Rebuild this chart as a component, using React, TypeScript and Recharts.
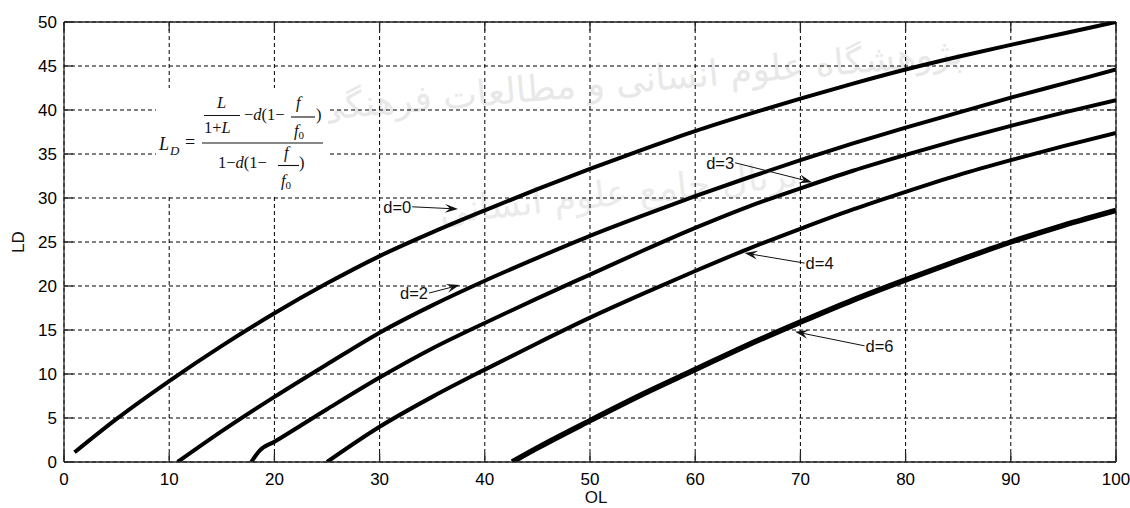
import React from 'react';
import { LineChart, Line, XAxis, YAxis, CartesianGrid, ReferenceLine } from 'recharts';

// ---- data ----
const xTicks = [0, 10, 20, 30, 40, 50, 60, 70, 80, 90, 100];
const yTicks = [0, 5, 10, 15, 20, 25, 30, 35, 40, 45, 50];

const curveD0: number[][] = [
  [1, 1.1], [5, 4.9], [10, 9.2], [15, 13.2], [20, 16.9], [25, 20.3], [30, 23.4], [35, 26.1],
  [40, 28.6], [45, 31.0], [50, 33.3], [55, 35.5], [60, 37.6], [65, 39.5], [70, 41.3],
  [75, 43.0], [80, 44.6], [85, 46.05], [90, 47.4], [95, 48.7], [100, 50.0],
];
const curveD2: number[][] = [
  [10.8, 0], [15, 3.5], [20, 7.4], [25, 11.1], [30, 14.7], [35, 17.8], [40, 20.6], [45, 23.2],
  [50, 25.7], [55, 28.0], [60, 30.2], [65, 32.3], [70, 34.3], [75, 36.2], [80, 38.0],
  [85, 39.7], [90, 41.4], [95, 43.0], [100, 44.6],
];
const curveD3: number[][] = [
  [17.8, 0], [18.6, 1.3], [20, 2.3], [25, 6.0], [30, 9.6], [35, 12.9], [40, 15.8], [45, 18.6],
  [50, 21.3], [55, 24.0], [60, 26.6], [65, 29.0], [70, 31.1], [75, 33.1], [80, 34.9],
  [85, 36.6], [90, 38.2], [95, 39.7], [100, 41.1],
];
const curveD4: number[][] = [
  [25, 0], [30, 4.0], [35, 7.4], [40, 10.5], [45, 13.5], [50, 16.4], [55, 19.1], [60, 21.7],
  [65, 24.2], [70, 26.5], [75, 28.7], [80, 30.7], [85, 32.6], [90, 34.3], [95, 35.9], [100, 37.4],
];
const curveD6: number[][] = [
  [42.6, 0], [45, 1.6], [50, 4.7], [55, 7.7], [60, 10.5], [65, 13.3], [70, 15.9], [75, 18.4],
  [80, 20.7], [85, 22.9], [90, 25.0], [95, 26.9], [100, 28.6],
];

const seriesLabels = ['d=0', 'd=2', 'd=3', 'd=4', 'd=6'];

// annotation arrows: label, arrow start (at label), arrow tip — data coordinates
const annLabels = ['d=0', 'd=2', 'd=3', 'd=4', 'd=6'];
const annFrom = [[33.1, 29.0], [34.7, 19.2], [63.8, 34.0], [70.4, 22.6], [76.1, 13.2]];
const annTo = [[37.45, 28.75], [37.6, 20.1], [71.1, 31.8], [64.7, 23.75], [69.5, 14.8]];
const annSide = ['left', 'left', 'left', 'right', 'right'];

const xLabel = 'OL';
const yLabel = 'LD';
const watermark1 = 'پژوهشگاه علوم انسانی و مطالعات فرهنگی';
const watermark2 = 'پرتال جامع علوم انسانی';

const toPts = (arr: number[][]) => arr.map(([x, y]) => ({ x, y }));
const curves = [curveD0, curveD2, curveD3, curveD4, curveD6];
const widths = [4, 4, 4, 4, 5.5];

const FONT = '"Liberation Sans", Arial, sans-serif';
const SERIF = '"Liberation Serif", "Times New Roman", serif';
const AX = '#262626';
const TICK_LEN = 9;

const makeArrow = (label: string, side: string) => (props: any) => {
  const { x1, y1, x2, y2 } = props;
  const dx = x2 - x1;
  const dy = y2 - y1;
  const len = Math.sqrt(dx * dx + dy * dy) || 1;
  const ux = dx / len;
  const uy = dy / len;
  const nx = -uy;
  const ny = ux;
  const L = 13;
  const W = 4.5;
  const bx = x2 - ux * L;
  const by = y2 - uy * L;
  const mx = x2 - ux * L * 0.62;
  const my = y2 - uy * L * 0.62;
  const pts = `${x2},${y2} ${bx + nx * W},${by + ny * W} ${mx},${my} ${bx - nx * W},${by - ny * W}`;
  return (
    <g>
      <line x1={x1} y1={y1} x2={mx} y2={my} stroke="#111" strokeWidth={1} />
      <polygon points={pts} fill="#111" />
      <text
        x={side === 'left' ? x1 - 1 : x1 + 1}
        y={y1}
        dy="0.36em"
        textAnchor={side === 'left' ? 'end' : 'start'}
        fontFamily={FONT}
        fontSize={16.5}
        fill="#111"
      >
        {label}
      </text>
    </g>
  );
};

// inward tick marks at both ends of a full-height / full-width reference line
const vTickShape = (props: any) => {
  const { x1, y1, x2, y2 } = props;
  const top = Math.min(y1, y2);
  const bot = Math.max(y1, y2);
  return (
    <g>
      <line x1={x1} y1={top} x2={x2} y2={top + TICK_LEN} stroke={AX} strokeWidth={1.3} />
      <line x1={x1} y1={bot} x2={x2} y2={bot - TICK_LEN} stroke={AX} strokeWidth={1.3} />
    </g>
  );
};
const hTickShape = (props: any) => {
  const { x1, y1, x2, y2 } = props;
  const left = Math.min(x1, x2);
  const right = Math.max(x1, x2);
  return (
    <g>
      <line x1={left} y1={y1} x2={left + TICK_LEN} y2={y2} stroke={AX} strokeWidth={1.3} />
      <line x1={right} y1={y1} x2={right - TICK_LEN} y2={y2} stroke={AX} strokeWidth={1.3} />
    </g>
  );
};

const tickStyle = { fill: '#000', fontSize: 17, fontFamily: FONT };

export default function App() {
  return (
    <div style={{ position: 'absolute', left: 0, top: 0, width: 1130, height: 508, background: '#fff', overflow: 'hidden' }}>
      {/* faint watermark */}
      <svg width={1130} height={508} style={{ position: 'absolute', left: 0, top: 0 }}>
        <text x={640} y={92} textAnchor="middle" fontFamily='"DejaVu Sans", "Noto Sans", sans-serif' fontSize={36}
          fill="#e8e8e8" transform="rotate(-5 640 92)" direction="rtl">{watermark1}</text>
        <text x={620} y={205} textAnchor="middle" fontFamily='"DejaVu Sans", "Noto Sans", sans-serif' fontSize={36}
          fill="#ebebeb" transform="rotate(-6 620 205)" direction="rtl">{watermark2}</text>
      </svg>
      <div style={{ position: 'absolute', left: 0, top: 0 }}>
        <LineChart width={1130} height={508} margin={{ top: 22, right: 14, bottom: 16, left: 0 }}>
          <CartesianGrid stroke="#000" strokeDasharray="4 3" strokeWidth={1} />
          <XAxis
            dataKey="x"
            type="number"
            domain={[0, 100]}
            ticks={xTicks}
            allowDataOverflow
            interval={0}
            height={30}
            tickLine={false}
            tickSize={6}
            tickMargin={5}
            axisLine={{ stroke: AX, strokeWidth: 1.3 }}
            tick={tickStyle}
          />
          <YAxis
            type="number"
            domain={[0, 50]}
            ticks={yTicks}
            allowDataOverflow
            interval={0}
            width={64}
            tickLine={false}
            tickSize={6}
            tickMargin={1}
            axisLine={{ stroke: AX, strokeWidth: 1.3 }}
            tick={tickStyle}
          />
          {/* box: top and right edges */}
          <ReferenceLine y={50} stroke={AX} strokeWidth={1.3} ifOverflow="visible" />
          <ReferenceLine x={100} stroke={AX} strokeWidth={1.3} ifOverflow="visible" />
          {xTicks.map((t) => (
            <ReferenceLine key={'vx' + t} x={t} ifOverflow="visible" shape={vTickShape} />
          ))}
          {yTicks.map((t) => (
            <ReferenceLine key={'hy' + t} y={t} ifOverflow="visible" shape={hTickShape} />
          ))}
          {curves.map((c, i) => (
            <Line
              key={seriesLabels[i]}
              name={seriesLabels[i]}
              data={toPts(c)}
              dataKey="y"
              type="monotone"
              stroke="#000"
              strokeWidth={widths[i]}
              dot={false}
              activeDot={false}
              isAnimationActive={false}
            />
          ))}
          {annLabels.map((lab, i) => (
            <ReferenceLine
              key={'a' + i}
              segment={[{ x: annFrom[i][0], y: annFrom[i][1] }, { x: annTo[i][0], y: annTo[i][1] }]}
              ifOverflow="visible"
              shape={makeArrow(lab, annSide[i])}
            />
          ))}
        </LineChart>
      </div>
      {/* formula, axis titles */}
      <svg width={1130} height={508} style={{ position: 'absolute', left: 0, top: 0, pointerEvents: 'none' }}>
        <rect x={156} y={88} width={172} height={106} fill="#fff" />
        <g fontFamily={SERIF} fill="#111" fontSize={16.5}>
          <text x={159} y={150} fontStyle="italic" fontSize={18}>L</text>
          <text x={170} y={155} fontStyle="italic" fontSize={13}>D</text>
          <text x={185} y={148} fontSize={18}>=</text>
          <line x1={202} y1={143} x2={323} y2={143} stroke="#111" strokeWidth={1.1} />
          {/* numerator */}
          <text x={217} y={108} fontStyle="italic">L</text>
          <line x1={204} y1={115.5} x2={240} y2={115.5} stroke="#111" strokeWidth={1.1} />
          <text x={204} y={133}>1+<tspan fontStyle="italic">L</tspan></text>
          <text x={244} y={120}>−<tspan fontStyle="italic">d</tspan>(1−</text>
          <text x={296} y={108} fontStyle="italic">f</text>
          <line x1={291} y1={117} x2={315} y2={117} stroke="#111" strokeWidth={1.1} />
          <text x={294} y={136} fontStyle="italic">f<tspan fontStyle="normal" fontSize={11} dy={3}>0</tspan></text>
          <text x={316} y={120}>)</text>
          {/* denominator */}
          <text x={218} y={168}>1−<tspan fontStyle="italic">d</tspan>(1−</text>
          <text x={284} y={158} fontStyle="italic">f</text>
          <line x1={278} y1={165.5} x2={299} y2={165.5} stroke="#111" strokeWidth={1.1} />
          <text x={281} y={186} fontStyle="italic">f<tspan fontStyle="normal" fontSize={11} dy={3}>0</tspan></text>
          <text x={299} y={168}>)</text>
        </g>
        <text x={596} y={503} textAnchor="middle" fontFamily={FONT} fontSize={17} fill="#111">{xLabel}</text>
        <text x={24} y={242} textAnchor="middle" fontFamily={FONT} fontSize={17} fill="#111"
          transform="rotate(-90 24 242)">{yLabel}</text>
      </svg>
    </div>
  );
}
